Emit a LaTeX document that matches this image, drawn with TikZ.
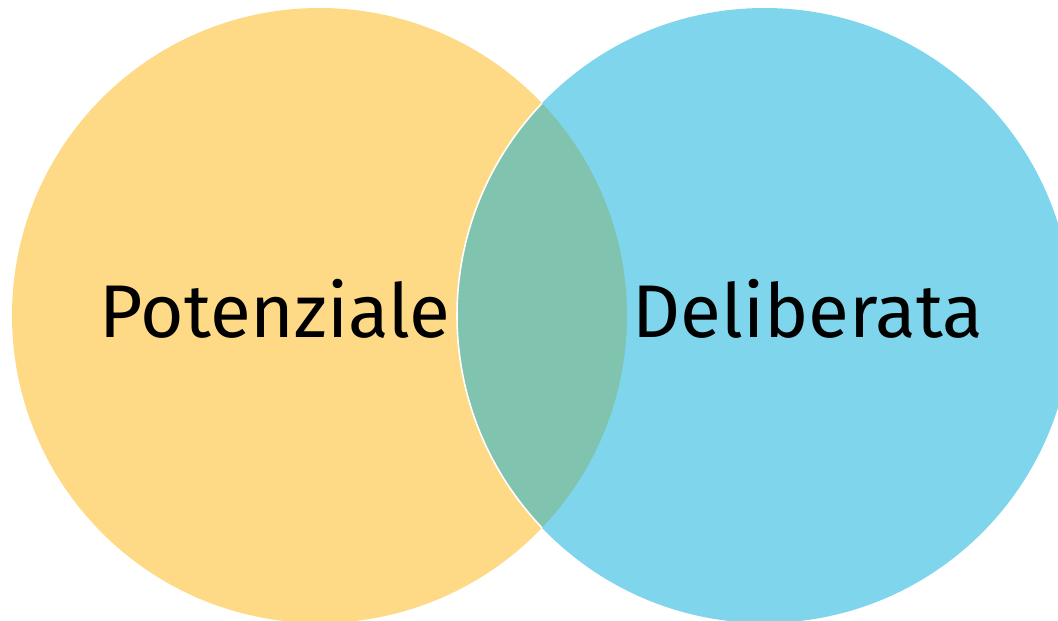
\documentclass[tikz,border=0pt]{standalone}
\usepackage{fontspec}
\setmainfont{Fira Sans}
\usetikzlibrary{positioning}
\definecolor{potyellow}{RGB}{254,217,134}
\definecolor{delblue}{RGB}{127,214,236}
\definecolor{overlapgreen}{RGB}{128,195,175}

\begin{document}
\begin{tikzpicture}[
  x=0.02cm, y=-0.02cm,
  setlabel/.style={anchor=base,font=\fontsize{42.5}{50}\selectfont}
]
  \useasboundingbox (0,0) rectangle (1058,620);
  \clip (0,0) rectangle (1058,620);

  \coordinate (cpot) at (319.5,315.5);
  \coordinate (cdel) at (764.5,315.5);

  \fill[potyellow] (cpot) circle[radius=307.5];
  \fill[delblue] (cdel) circle[radius=307.5];
  \begin{scope}
    \clip (cpot) circle[radius=307.5];
    \fill[overlapgreen] (cdel) circle[radius=307.5];
    \draw[white,line width=0.9pt] (cdel) circle[radius=307.5];
  \end{scope}

  \node[setlabel] (pot) at (275,337) {Potenziale};
  \node[setlabel] (del) at (808,337) {Deliberata};
\end{tikzpicture}
\end{document}
